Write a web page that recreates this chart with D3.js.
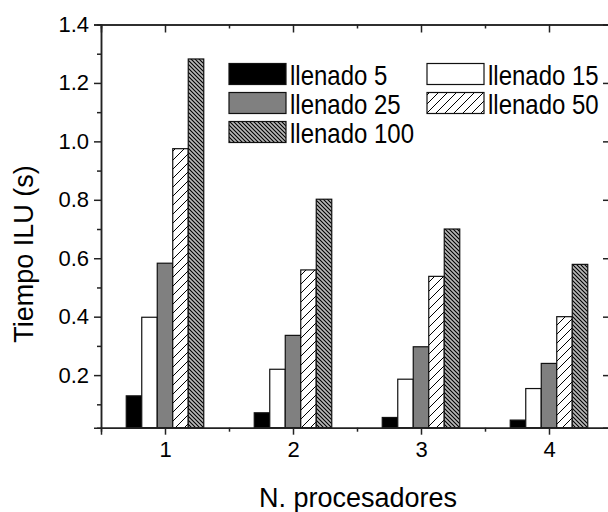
<!DOCTYPE html>
<html><head><meta charset="utf-8">
<script src="https://cdn.jsdelivr.net/npm/d3@7/dist/d3.min.js"></script>
<style>body{margin:0;background:#fff}svg{display:block;font-family:"Liberation Sans",Arial,sans-serif}</style>
</head><body>
<svg id="c" width="608" height="512"></svg>
<script>
const categories = [1, 2, 3, 4];
const seriesNames = ["llenado 5", "llenado 15", "llenado 25", "llenado 50", "llenado 100"];
const llenado5   = [0.129, 0.071, 0.055, 0.046];
const llenado15  = [0.398, 0.220, 0.186, 0.154];
const llenado25  = [0.583, 0.336, 0.297, 0.240];
const llenado50  = [0.975, 0.560, 0.538, 0.400];
const llenado100 = [1.282, 0.802, 0.700, 0.579];
const yTicks = [0.2, 0.4, 0.6, 0.8, 1.0, 1.2, 1.4];
const yMinor = [0.1, 0.3, 0.5, 0.7, 0.9, 1.1, 1.3];
const xMinor = [1.5, 2.5, 3.5];
const seriesValues = [llenado5, llenado15, llenado25, llenado50, llenado100];

const svg = d3.select("#c");
const defs = svg.append("defs");
// hatch "/" pattern
const p1 = defs.append("pattern").attr("id","hatch").attr("patternUnits","userSpaceOnUse")
  .attr("width",9).attr("height",9);
p1.append("rect").attr("width",9).attr("height",9).attr("fill","#fff");
p1.append("path").attr("d","M0,9 L9,0 M-2,2 L2,-2 M7,11 L11,7").attr("stroke","#000").attr("stroke-width",1);
// dense "\" pattern on gray
const p2 = defs.append("pattern").attr("id","dense").attr("patternUnits","userSpaceOnUse")
  .attr("width",4).attr("height",4);
p2.append("rect").attr("width",4).attr("height",4).attr("fill","#b8b8b8");
p2.append("path").attr("d","M0,0 L4,4 M-1,3 L1,5 M3,-1 L5,1").attr("stroke","#000").attr("stroke-width",1.1);

const fills = ["#000", "#fff", "#808080", "url(#hatch)", "url(#dense)"];

const x = d3.scaleLinear().domain([0.5, 4.5]).range([101, 613]);
const y = d3.scaleLinear().domain([0.02, 1.4]).range([427.7, 24.5]);
const sub = d3.scaleBand().domain(d3.range(5)).range([-38.75, 38.75]).padding(0);

// bars
seriesValues.forEach((vals, s) => {
  svg.append("g").selectAll("rect").data(vals).join("rect")
    .attr("x", (d,i) => x(categories[i]) + sub(s))
    .attr("width", sub.bandwidth())
    .attr("y", d => y(d))
    .attr("height", d => y(0.02) - y(d))
    .attr("fill", fills[s])
    .attr("stroke", "#111").attr("stroke-width", 1.2);
});

const axisColor = "#222";
// left axis
const gL = svg.append("g").attr("transform","translate(101,0)")
  .call(d3.axisLeft(y).tickValues(yTicks).tickSize(7).tickFormat(d3.format(".1f")));
svg.append("g").attr("transform","translate(101,0)")
  .call(d3.axisLeft(y).tickValues(yMinor).tickSize(4).tickFormat(""));
// right axis (inward ticks)
svg.append("g").attr("transform","translate(613,0)")
  .call(d3.axisLeft(y).tickValues(yTicks).tickSize(10).tickFormat(""));
// bottom axis
const gB = svg.append("g").attr("transform","translate(0,427.7)")
  .call(d3.axisBottom(x).tickValues(categories).tickSize(7).tickFormat(d3.format("d")));
svg.append("g").attr("transform","translate(0,427.7)")
  .call(d3.axisBottom(x).tickValues(xMinor).tickSize(4).tickFormat(""));
// top axis (inward ticks)
svg.append("g").attr("transform","translate(0,24.5)")
  .call(d3.axisBottom(x).tickValues(categories).tickSize(8).tickFormat(""));
svg.append("g").attr("transform","translate(0,24.5)")
  .call(d3.axisBottom(x).tickValues(xMinor).tickSize(4).tickFormat(""));

svg.selectAll(".domain").attr("stroke", axisColor).attr("stroke-width",1.5);
svg.selectAll(".tick line").attr("stroke", axisColor).attr("stroke-width",1.5);
svg.selectAll(".tick text").attr("font-size",22).attr("fill","#000")
  .attr("font-family","'Liberation Sans',Arial,sans-serif");
gL.selectAll(".tick text").attr("x",-12);
gB.selectAll(".tick text").attr("y",14);

// axis titles
svg.append("text").attr("transform","translate(33,254) rotate(-90)")
  .attr("text-anchor","middle").attr("font-size",27).text("Tiempo ILU (s)");
svg.append("text").attr("x",358).attr("y",506.5)
  .attr("text-anchor","middle").attr("font-size",27).text("N. procesadores");

// legend
const legPos = [[229,63.5],[427,63.5],[229,92.5],[427,92.5],[229,121.5]];
const legOrder = [0,1,2,3,4];
legOrder.forEach((s, k) => {
  const [lx, ly] = legPos[k];
  svg.append("rect").attr("x",lx).attr("y",ly).attr("width",57).attr("height",21)
    .attr("fill",fills[s]).attr("stroke","#111").attr("stroke-width",1.2);
  svg.append("text").attr("transform",`translate(${lx+61},${ly+21}) scale(1,1.12)`)
    .attr("font-size",24).text(seriesNames[s]);
});
</script>
</body></html>
